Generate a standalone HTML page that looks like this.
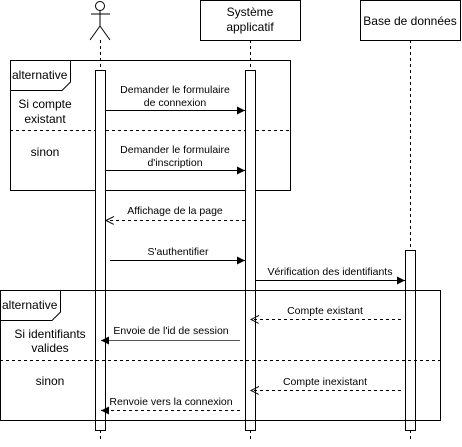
<!DOCTYPE html><html><head><style>html,body{margin:0;padding:0;background:#fff}</style></head><body>
<svg width="462" height="442" xmlns="http://www.w3.org/2000/svg" font-family="Liberation Sans, sans-serif">
<defs>
<marker id="f" markerWidth="10" markerHeight="10" refX="8" refY="4" orient="auto" markerUnits="userSpaceOnUse"><path d="M0,0 L8,4 L0,8 Z" fill="#000"/></marker>
<marker id="o" markerWidth="10" markerHeight="10" refX="8" refY="4" orient="auto" markerUnits="userSpaceOnUse"><path d="M0,0 L8,4 L0,8" fill="none" stroke="#000"/></marker>
</defs>
<g stroke="#000" fill="none">
<circle cx="100" cy="6" r="4.5"/>
<line x1="100" y1="10.5" x2="100" y2="26"/>
<line x1="91" y1="14" x2="110" y2="14"/>
<line x1="100" y1="26" x2="90" y2="40"/><line x1="100" y1="26" x2="110" y2="40"/>
<rect x="200.5" y="0.5" width="100" height="40" fill="#fff"/>
<rect x="360.5" y="0.5" width="100" height="40" fill="#fff"/>
<g stroke-dasharray="3,3">
<line x1="100.5" y1="40" x2="100.5" y2="442"/>
<line x1="250.5" y1="40" x2="250.5" y2="442"/>
<line x1="410.5" y1="40" x2="410.5" y2="442"/>
</g>
<rect x="10.5" y="60.5" width="280" height="130"/>
<path d="M10.5,90.5 H62 L70.5,82 V60.5"/>
<line x1="10" y1="130.5" x2="290" y2="130.5" stroke-dasharray="3,3"/>
<rect x="95.5" y="70.5" width="10" height="360" fill="#fff"/>
<rect x="245.5" y="70.5" width="10" height="360" fill="#fff"/>
<rect x="405.5" y="250.5" width="10" height="180" fill="#fff"/>
<rect x="0.5" y="290.5" width="440" height="130"/>
<path d="M0.5,320.5 H52 L60.5,312 V290.5"/>
<line x1="0" y1="360.5" x2="440" y2="360.5" stroke-dasharray="3,3"/>
<line x1="105" y1="110.5" x2="245" y2="110.5" marker-end="url(#f)"/>
<line x1="105" y1="170.5" x2="245" y2="170.5" marker-end="url(#f)"/>
<line x1="245" y1="220.5" x2="106" y2="220.5" stroke-dasharray="3,3" marker-end="url(#o)"/>
<line x1="110" y1="260.5" x2="245" y2="260.5" marker-end="url(#f)"/>
<line x1="255" y1="280.5" x2="405" y2="280.5" marker-end="url(#f)"/>
<line x1="401" y1="319.5" x2="251" y2="319.5" stroke-dasharray="3,3" marker-end="url(#o)"/>
<line x1="240" y1="340.5" x2="101" y2="340.5" stroke="#555" marker-end="url(#f)"/>
<line x1="401" y1="390.5" x2="251" y2="390.5" stroke-dasharray="3,3" marker-end="url(#o)"/>
<line x1="240" y1="410.5" x2="101" y2="410.5" stroke-dasharray="3,3" marker-end="url(#f)"/>
</g>
<g font-size="12" fill="#000" text-anchor="middle">
<text x="250" y="16">Système</text><text x="250" y="31">applicatif</text>
<text x="410" y="25">Base de données</text>
<text x="12" y="79" text-anchor="start">alternative</text>
<text x="45" y="108">Si compte</text><text x="45" y="123">existant</text>
<text x="45" y="156">sinon</text>
<text x="2" y="309" text-anchor="start">alternative</text>
<text x="50" y="338">Si identifiants</text><text x="50" y="352">valides</text>
<text x="50" y="385">sinon</text>
</g>
<g font-size="10.5" fill="#000" text-anchor="middle">
<text x="175" y="93">Demander le formulaire</text><text x="175" y="106">de connexion</text>
<text x="175" y="153">Demander le formulaire</text><text x="175" y="166">d'inscription</text>
<text x="175" y="214">Affichage de la page</text>
<text x="178" y="255">S'authentifier</text>
<text x="330" y="275">Vérification des identifiants</text>
<text x="325" y="314">Compte existant</text>
<text x="171" y="334">Envoie de l'id de session</text>
<text x="325" y="385">Compte inexistant</text>
<text x="171" y="405">Renvoie vers la connexion</text>
</g>
</svg>
</body></html>
